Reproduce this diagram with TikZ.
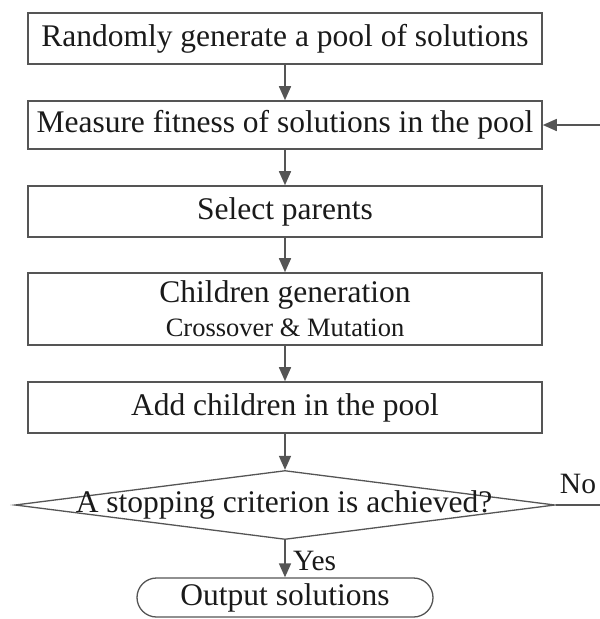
\documentclass[tikz,border=0pt]{standalone}
\usepackage{fontspec}
\setmainfont{Liberation Serif}
\usetikzlibrary{arrows.meta,shapes.geometric,shapes.misc}
\definecolor{linegray}{HTML}{555555}
\definecolor{inkgray}{HTML}{1A1A1A}
\begin{document}
\begin{tikzpicture}[x=1pt,y=-1pt,
  every node/.style={font=\rmfamily\fontsize{31.5}{36}\selectfont, text=inkgray},
  stepbox/.style={draw=linegray, line width=1.6pt, minimum width=514pt, inner sep=0pt, fill=white},
  flow/.style={draw=linegray, line width=1.6pt, -{Triangle[length=14pt,width=12pt]}},
  smalltext/.style={font=\rmfamily\fontsize{29.5}{30}\selectfont}
]
\useasboundingbox (0,0) rectangle (600,619);

% process steps
\node[stepbox, minimum height=51pt] (b1) at (285,38.5) {Randomly generate a pool of solutions};
\node[stepbox, minimum height=48pt] (b2) at (285,125) {Measure fitness of solutions in the pool};
\node[stepbox, minimum height=51pt] (b3) at (285,211.5) {Select parents};
\node[stepbox, minimum height=72pt, align=center] (b4) at (285,309)
  {\fontsize{31.5}{30}\selectfont Children generation\\[-2pt]{\fontsize{26.5}{30}\selectfont Crossover \& Mutation}};
\node[stepbox, minimum height=51pt] (b5) at (285,407.5) {Add children in the pool};

% decision
\node[diamond, draw=linegray, line width=1.3pt, minimum width=540pt, minimum height=69pt, inner sep=0pt] (dec) at (285,505) {};
\node (dtext) at (284,505) {A stopping criterion is achieved?};

% terminal
\node[rounded rectangle, draw=linegray, line width=1.3pt, minimum width=296pt, minimum height=39pt, inner sep=0pt] (out) at (285,597.5) {Output solutions};

% connectors
\draw[flow] (b1) -- (b2);
\draw[flow] (b2) -- (b3);
\draw[flow] (b3) -- (b4);
\draw[flow] (b4) -- (b5);
\draw[flow] (b5) -- (dec.north);
\draw[flow] (dec.south) -- (out.north);
\node[smalltext, anchor=west, inner sep=0pt] (yes) at (293,561) {Yes};

% loop back when the criterion is not met
\coordinate (loop) at (615,505);
\draw[flow] (dec.east) -- (loop) |- (b2.east);
\node[smalltext, inner sep=0pt] (no) at (578,484) {No};
\end{tikzpicture}
\end{document}
